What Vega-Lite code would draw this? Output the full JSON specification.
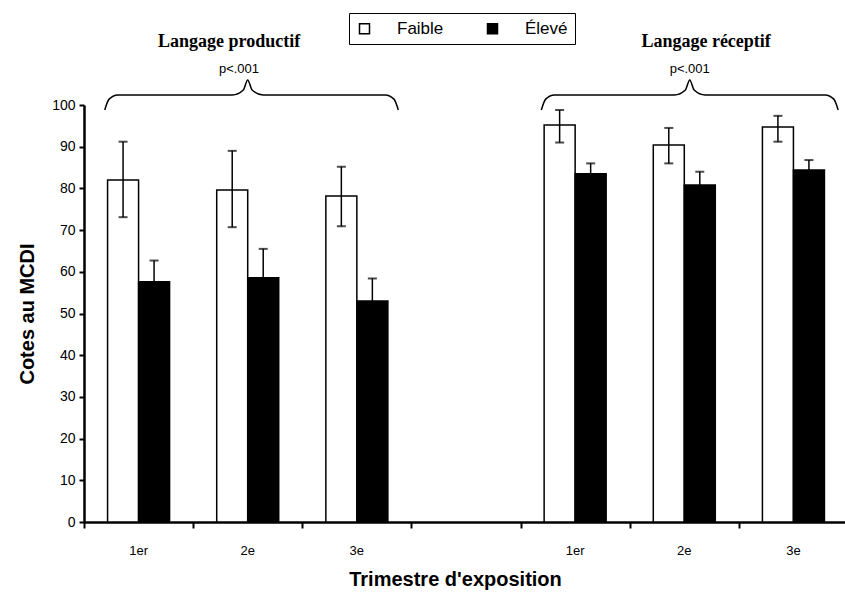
{
  "$schema": "https://vega.github.io/schema/vega-lite/v6.json",
  "width": 764,
  "height": 417,
  "autosize": {"type": "none"},
  "padding": {"left": 84, "top": 105, "right": 0, "bottom": 76},
  "background": "white",
  "config": {"view": {"stroke": null}, "font": "Liberation Sans"},
  "datasets": {
    "bars": [
      {"slot": "P-1er", "grp": "Faible", "value": 82.0, "lo": 73.1, "hi": 91.2},
      {"slot": "P-1er", "grp": "Élevé", "value": 57.6, "lo": 52.5, "hi": 62.7},
      {"slot": "P-2e", "grp": "Faible", "value": 79.6, "lo": 70.7, "hi": 89.0},
      {"slot": "P-2e", "grp": "Élevé", "value": 58.6, "lo": 51.7, "hi": 65.5},
      {"slot": "P-3e", "grp": "Faible", "value": 78.2, "lo": 70.9, "hi": 85.2},
      {"slot": "P-3e", "grp": "Élevé", "value": 53.0, "lo": 47.6, "hi": 58.4},
      {"slot": "R-1er", "grp": "Faible", "value": 95.2, "lo": 91.0, "hi": 98.8},
      {"slot": "R-1er", "grp": "Élevé", "value": 83.5, "lo": 81.0, "hi": 86.0},
      {"slot": "R-2e", "grp": "Faible", "value": 90.4, "lo": 86.0, "hi": 94.5},
      {"slot": "R-2e", "grp": "Élevé", "value": 80.8, "lo": 77.6, "hi": 84.0},
      {"slot": "R-3e", "grp": "Faible", "value": 94.7, "lo": 91.2, "hi": 97.4},
      {"slot": "R-3e", "grp": "Élevé", "value": 84.4, "lo": 82.0, "hi": 86.8}
    ],
    "braces": [
      {"id": "P", "pos": 0.19, "value": 98.8},
      {"id": "P", "pos": 0.23, "value": 101.4},
      {"id": "P", "pos": 0.31, "value": 102.4},
      {"id": "P", "pos": 1.36, "value": 102.4},
      {"id": "P", "pos": 1.46, "value": 103.6},
      {"id": "P", "pos": 1.50, "value": 106.0},
      {"id": "P", "pos": 1.54, "value": 103.6},
      {"id": "P", "pos": 1.64, "value": 102.4},
      {"id": "P", "pos": 2.76, "value": 102.4},
      {"id": "P", "pos": 2.84, "value": 101.4},
      {"id": "P", "pos": 2.88, "value": 98.8},
      {"id": "R", "pos": 4.19, "value": 98.8},
      {"id": "R", "pos": 4.23, "value": 101.4},
      {"id": "R", "pos": 4.31, "value": 102.4},
      {"id": "R", "pos": 5.41, "value": 102.4},
      {"id": "R", "pos": 5.51, "value": 103.6},
      {"id": "R", "pos": 5.55, "value": 106.0},
      {"id": "R", "pos": 5.59, "value": 103.6},
      {"id": "R", "pos": 5.69, "value": 102.4},
      {"id": "R", "pos": 6.79, "value": 102.4},
      {"id": "R", "pos": 6.87, "value": 101.4},
      {"id": "R", "pos": 6.91, "value": 98.8}
    ],
    "labels": [
      {"kind": "title", "pos": 1.33, "value": 113.9, "txt": "Langage productif"},
      {"kind": "p", "pos": 1.42, "value": 107.6, "txt": "p<.001"},
      {"kind": "title", "pos": 5.70, "value": 113.9, "txt": "Langage réceptif"},
      {"kind": "p", "pos": 5.55, "value": 107.6, "txt": "p<.001"}
    ]
  },
  "layer": [
    {
      "data": {"name": "bars"},
      "encoding": {
        "x": {
          "field": "slot",
          "type": "nominal",
          "scale": {"domain": ["P-1er", "P-2e", "P-3e", "--", "R-1er", "R-2e", "R-3e"], "paddingInner": 0, "paddingOuter": 0},
          "axis": {
            "title": "Trimestre d'exposition",
            "labelExpr": "slice(datum.value, 2)",
            "labelAngle": 0,
            "labelFontSize": 13,
            "labelColor": "black",
            "labelPadding": 22,
            "ticks": false,
            "domainColor": "black",
            "domainWidth": 2.5,
            "titleFontSize": 20,
            "titleFontWeight": "bold",
            "titleColor": "black",
            "titlePadding": 12,
            "titleX": 371
          }
        },
        "xOffset": {"field": "grp", "scale": {"domain": ["Faible", "Élevé"], "paddingInner": 0, "paddingOuter": 0.76}}
      },
      "layer": [
        {
          "mark": {"type": "bar", "stroke": "black", "strokeWidth": 1.5},
          "encoding": {
            "y": {
              "field": "value",
              "type": "quantitative",
              "scale": {"domain": [0, 100]},
              "axis": {
                "title": "Cotes au MCDI",
                "values": [0, 10, 20, 30, 40, 50, 60, 70, 80, 90, 100],
                "grid": false,
                "labelFontSize": 14,
                "labelColor": "black",
                "labelPadding": 4,
                "tickColor": "black",
                "tickWidth": 2,
                "tickSize": 5,
                "domainColor": "black",
                "domainWidth": 2.5,
                "titleFontSize": 20,
                "titleFontWeight": "bold",
                "titleColor": "black",
                "titlePadding": 14
              }
            },
            "fill": {
              "field": "grp",
              "type": "nominal",
              "scale": {"domain": ["Faible", "Élevé"], "range": ["white", "black"]},
              "legend": {
                "title": null,
                "orient": "none",
                "direction": "horizontal",
                "legendX": 265,
                "legendY": -92,
                "symbolType": "square",
                "symbolSize": 100,
                "symbolStrokeColor": "black",
                "symbolStrokeWidth": 1.5,
                "labelFontSize": 17,
                "labelColor": "black",
                "labelOffset": 24,
                "columnPadding": 40,
                "padding": 7,
                "strokeColor": "black"
              }
            }
          }
        },
        {
          "mark": {"type": "rule", "color": "black", "strokeWidth": 1.5},
          "encoding": {"y": {"field": "lo", "type": "quantitative"}, "y2": {"field": "hi"}}
        },
        {
          "mark": {"type": "tick", "color": "black", "thickness": 2, "size": 9},
          "encoding": {"y": {"field": "hi", "type": "quantitative"}}
        },
        {
          "mark": {"type": "tick", "color": "black", "thickness": 2, "size": 9},
          "encoding": {"y": {"field": "lo", "type": "quantitative"}}
        }
      ]
    },
    {
      "data": {"name": "braces"},
      "mark": {"type": "line", "interpolate": "monotone", "color": "black", "strokeWidth": 1.5},
      "encoding": {
        "x": {
          "field": "pos",
          "type": "quantitative",
          "scale": {"domain": [0, 7], "nice": false, "zero": false},
          "axis": {
            "values": [0, 1, 2, 3, 4, 5, 6, 7],
            "orient": "bottom",
            "labels": false,
            "domain": false,
            "grid": false,
            "title": null,
            "ticks": true,
            "tickColor": "black",
            "tickWidth": 2,
            "tickSize": 6
          }
        },
        "y": {"field": "value", "type": "quantitative"},
        "detail": {"field": "id"},
        "order": {"field": "pos"}
      }
    },
    {
      "data": {"name": "labels"},
      "transform": [{"filter": "datum.kind == 'title'"}],
      "mark": {"type": "text", "font": "Liberation Serif", "fontWeight": "bold", "fontSize": 18, "color": "black", "baseline": "alphabetic", "align": "center"},
      "encoding": {
        "x": {"field": "pos", "type": "quantitative", "scale": {"domain": [0, 7], "nice": false, "zero": false}, "axis": null},
        "y": {"field": "value", "type": "quantitative"},
        "text": {"field": "txt"}
      }
    },
    {
      "data": {"name": "labels"},
      "transform": [{"filter": "datum.kind == 'p'"}],
      "mark": {"type": "text", "font": "Liberation Sans", "fontSize": 13, "color": "black", "baseline": "alphabetic", "align": "center"},
      "encoding": {
        "x": {"field": "pos", "type": "quantitative", "scale": {"domain": [0, 7], "nice": false, "zero": false}, "axis": null},
        "y": {"field": "value", "type": "quantitative"},
        "text": {"field": "txt"}
      }
    }
  ],
  "resolve": {"scale": {"x": "independent"}}
}
